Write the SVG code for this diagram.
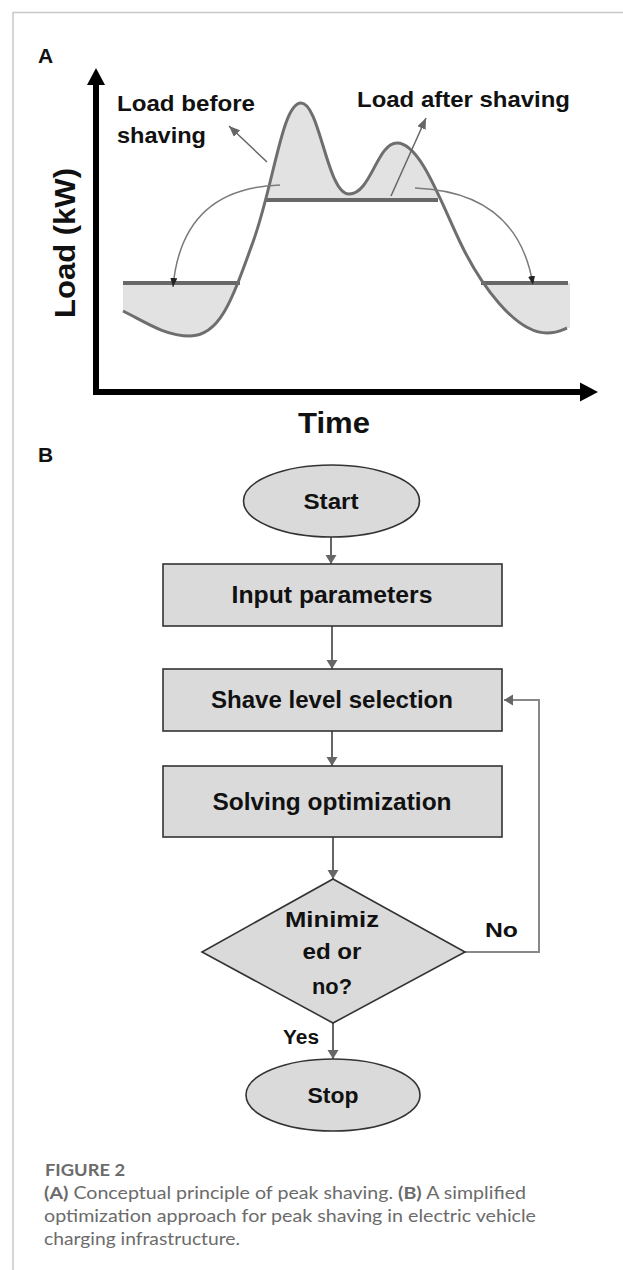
<svg xmlns="http://www.w3.org/2000/svg" width="623" height="1270" viewBox="0 0 623 1270">
<style>
.lbl{font-family:"Liberation Sans",Arial,sans-serif;font-weight:bold;fill:#111;}
.box{fill:#dadada;stroke:#333;stroke-width:1.6;}
.flow{stroke:#666;stroke-width:2;fill:none;}
.cap{font-family:Lato,"Noto Sans",sans-serif;fill:#6b6b6b;font-size:17.5px;}
</style>
<defs>
<marker id="fa" markerUnits="userSpaceOnUse" markerWidth="10" markerHeight="12" refX="9" refY="5.5" orient="auto">
<path d="M0,0 L9,5.5 L0,11 z" fill="#666"/>
</marker>
<marker id="ga" markerUnits="userSpaceOnUse" markerWidth="12" markerHeight="10" refX="11" refY="4.5" orient="auto">
<path d="M0,0 L11,4.5 L0,9 z" fill="#666"/>
</marker>
<marker id="ca" markerUnits="userSpaceOnUse" markerWidth="10" markerHeight="8" refX="9" refY="3.5" orient="auto">
<path d="M0,0 L9,3.5 L0,7 z" fill="#222"/>
</marker>
<clipPath id="belowCurve">
<path d="M123,311 C145,322 165,336 190,336 C220,336 232,300 253,242 C274,184 282,103 301,103 C320,103 327,194 349,194 C371,194 377,143 397,143 C420,143 440,200 460,242 C480,284 515,333 547,333 C557,333 562,330 567,328 L570,328 L570,420 L123,420 Z"/>
</clipPath>
<clipPath id="aboveCurve">
<path d="M123,311 C145,322 165,336 190,336 C220,336 232,300 253,242 C274,184 282,103 301,103 C320,103 327,194 349,194 C371,194 377,143 397,143 C420,143 440,200 460,242 C480,284 515,333 547,333 C557,333 562,330 567,328 L570,328 L570,0 L123,0 Z"/>
</clipPath>
</defs>
<rect width="623" height="1270" fill="#fff"/>
<g id="frame" stroke="#c8c8c8" stroke-width="1.5" fill="none">
<path d="M13,1270 L13,12.5 L623,12.5"/>
</g>

<g id="panelA">
<text class="lbl" x="38" y="63" font-size="21">A</text>
<g id="fills" fill="#e2e2e2">
<rect x="266" y="90" width="172" height="110" clip-path="url(#belowCurve)"/>
<rect x="123" y="283" width="117" height="70" clip-path="url(#aboveCurve)"/>
<rect x="481" y="283" width="89" height="70" clip-path="url(#aboveCurve)"/>
</g>
<g id="levels" stroke="#686868" stroke-width="4" fill="none">
<line x1="266" y1="200" x2="438" y2="200"/>
<line x1="123" y1="283" x2="240" y2="283"/>
<line x1="481" y1="283" x2="568" y2="283"/>
</g>
<path id="loadCurve" d="M123,311 C145,322 165,336 190,336 C220,336 232,300 253,242 C274,184 282,103 301,103 C320,103 327,194 349,194 C371,194 377,143 397,143 C420,143 440,200 460,242 C480,284 515,333 547,333 C557,333 562,330 567,328" fill="none" stroke="#6e6e6e" stroke-width="3"/>
<g id="pointers" fill="none">
<line x1="267" y1="162" x2="229" y2="126" stroke="#666" stroke-width="1.5" marker-end="url(#ga)"/>
<line x1="391" y1="196" x2="426" y2="118" stroke="#666" stroke-width="1.5" marker-end="url(#ga)"/>
<path d="M280,185 Q182,188 173,287" stroke="#7a7a7a" stroke-width="1.5" marker-end="url(#ca)"/>
<path d="M415,188 Q518,192 533,285" stroke="#7a7a7a" stroke-width="1.5" marker-end="url(#ca)"/>
</g>
<g id="axes">
<line x1="96" y1="82" x2="96" y2="395" stroke="#000" stroke-width="6"/>
<line x1="93" y1="392" x2="582" y2="392" stroke="#000" stroke-width="6"/>
<path d="M96,68 L105,85 L87,85 z" fill="#000"/>
<path d="M598,392 L580,382.5 L580,401.5 z" fill="#000"/>
</g>
<text class="lbl" font-size="30" text-anchor="middle" textLength="150" lengthAdjust="spacingAndGlyphs" transform="translate(75,243) rotate(-90)">Load (kW)</text>
<text class="lbl" x="334" y="433" font-size="30" text-anchor="middle" textLength="72" lengthAdjust="spacingAndGlyphs">Time</text>
<text class="lbl" x="117" y="111" font-size="22" textLength="138" lengthAdjust="spacingAndGlyphs">Load before</text>
<text class="lbl" x="117" y="143" font-size="22" textLength="89" lengthAdjust="spacingAndGlyphs">shaving</text>
<text class="lbl" x="357" y="107" font-size="22" textLength="213" lengthAdjust="spacingAndGlyphs">Load after shaving</text>
</g>

<text class="lbl" x="38" y="462" font-size="21">B</text>

<g id="connectors">
<line class="flow" x1="331" y1="537" x2="331" y2="564" marker-end="url(#fa)"/>
<line class="flow" x1="332" y1="626" x2="332" y2="669" marker-end="url(#fa)"/>
<line class="flow" x1="332" y1="731" x2="332" y2="766" marker-end="url(#fa)"/>
<line class="flow" x1="333" y1="837" x2="333" y2="879" marker-end="url(#fa)"/>
<line class="flow" x1="333" y1="1023" x2="333" y2="1059" marker-end="url(#fa)"/>
<path d="M465,952 L539,952 L539,700 L504,700" fill="none" stroke="#888" stroke-width="2" marker-end="url(#fa)"/>
<text class="lbl" x="485" y="937" font-size="20" textLength="33" lengthAdjust="spacingAndGlyphs">No</text>
<text class="lbl" x="283" y="1044" font-size="20" textLength="36" lengthAdjust="spacingAndGlyphs">Yes</text>
</g>

<g id="start">
<ellipse class="box" cx="331.5" cy="501" rx="88" ry="36"/>
<text class="lbl" x="331" y="509" font-size="22" text-anchor="middle" textLength="55" lengthAdjust="spacingAndGlyphs">Start</text>
</g>
<g id="input">
<rect class="box" x="163" y="564" width="339" height="62"/>
<text class="lbl" x="332" y="603" font-size="23" text-anchor="middle" textLength="201" lengthAdjust="spacingAndGlyphs">Input parameters</text>
</g>
<g id="shave">
<rect class="box" x="163" y="669" width="339" height="62"/>
<text class="lbl" x="332" y="708" font-size="23" text-anchor="middle" textLength="242" lengthAdjust="spacingAndGlyphs">Shave level selection</text>
</g>
<g id="solve">
<rect class="box" x="163" y="766" width="339" height="71"/>
<text class="lbl" x="332" y="810" font-size="23" text-anchor="middle" textLength="239" lengthAdjust="spacingAndGlyphs">Solving optimization</text>
</g>
<g id="decision">
<path class="box" d="M333,879 L465,952 L333,1023 L202,952 Z"/>
<text class="lbl" x="332" y="927" font-size="22" text-anchor="middle" textLength="94" lengthAdjust="spacingAndGlyphs">Minimiz</text>
<text class="lbl" x="332" y="959" font-size="22" text-anchor="middle" textLength="59" lengthAdjust="spacingAndGlyphs">ed or</text>
<text class="lbl" x="332" y="994" font-size="22" text-anchor="middle" textLength="40" lengthAdjust="spacingAndGlyphs">no?</text>
</g>
<g id="stop">
<ellipse class="box" cx="333" cy="1095" rx="87" ry="36"/>
<text class="lbl" x="333" y="1103" font-size="22" text-anchor="middle" textLength="51" lengthAdjust="spacingAndGlyphs">Stop</text>
</g>

<g id="caption">
<text class="cap" x="45" y="1176" font-weight="bold" textLength="80" lengthAdjust="spacingAndGlyphs">FIGURE 2</text>
<text class="cap" x="44" y="1199" textLength="482" lengthAdjust="spacingAndGlyphs"><tspan font-weight="bold">(A)</tspan> Conceptual principle of peak shaving. <tspan font-weight="bold">(B)</tspan> A simplified</text>
<text class="cap" x="44" y="1222" textLength="492" lengthAdjust="spacingAndGlyphs">optimization approach for peak shaving in electric vehicle</text>
<text class="cap" x="44" y="1245" textLength="196" lengthAdjust="spacingAndGlyphs">charging infrastructure.</text>
</g>
</svg>
